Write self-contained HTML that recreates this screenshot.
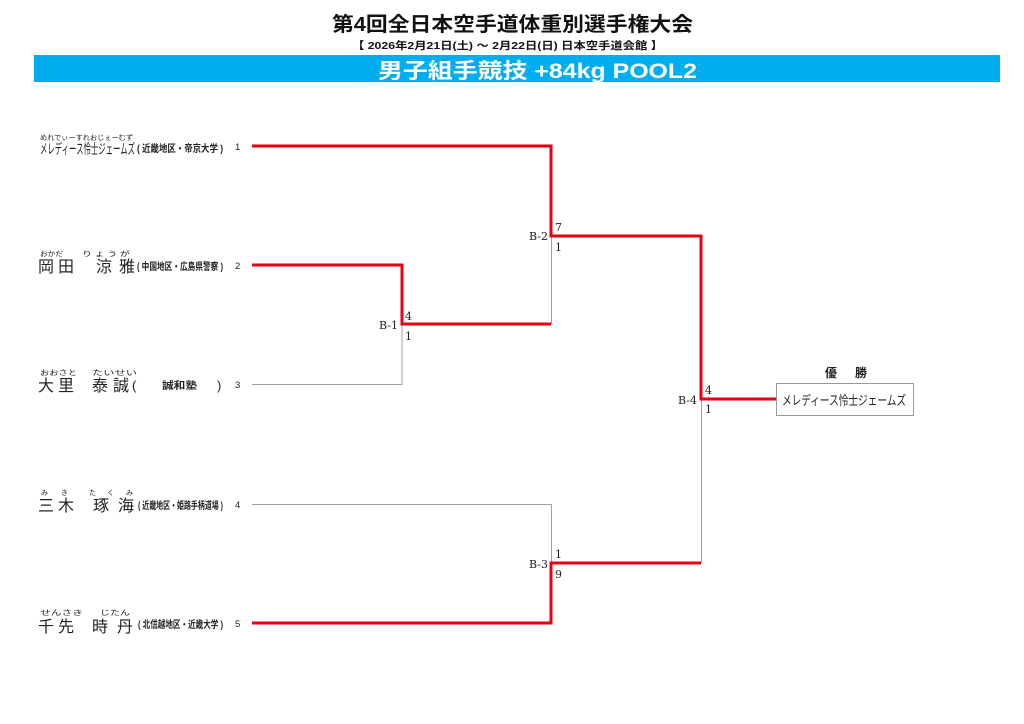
<!DOCTYPE html>
<html><head><meta charset="utf-8"><style>
html,body{margin:0;padding:0;background:#fff;width:1024px;height:724px;overflow:hidden}
svg{display:block}
.j{font-family:"Liberation Sans","Noto Sans CJK JP",sans-serif}
.s{font-family:"DejaVu Serif","Liberation Serif",serif;font-size:11px;fill:#222}
</style></head><body>
<svg width="1024" height="724" viewBox="0 0 1024 724" xmlns="http://www.w3.org/2000/svg">
<rect width="1024" height="724" fill="#fff"/>
<text class="j" x="332" y="31" font-size="20" font-weight="bold" textLength="361" lengthAdjust="spacingAndGlyphs" fill="#111">第4回全日本空手道体重別選手権大会</text>
<text class="j" x="352" y="49" font-size="10.5" font-weight="bold" textLength="311" lengthAdjust="spacingAndGlyphs" fill="#111">【 2026年2月21日(土) ～ 2月22日(日)  日本空手道会館 】</text>
<rect x="34" y="55" width="966" height="27" fill="#00aeef"/>
<text class="j" x="378" y="78" font-size="21" font-weight="bold" textLength="319" lengthAdjust="spacingAndGlyphs" fill="#fff">男子組手競技 +84kg POOL2</text>

<!-- gray lines -->
<g stroke="#a0a0a0" stroke-width="1" fill="none">
<polyline points="252,384.5 402,384.5 402,324"/>
<polyline points="551.5,236 551.5,324"/>
<polyline points="252,504.5 551.5,504.5 551.5,563"/>
<polyline points="701.5,399 701.5,563"/>
</g>
<!-- red lines -->
<g stroke="#e60012" stroke-width="3" fill="none" stroke-linejoin="miter">
<polyline points="252,146 551,146 551,236 701,236 701,399 776,399"/>
<polyline points="252,265 402,265 402,324 551,324"/>
<polyline points="252,623 551,623 551,563 701,563"/>
</g>

<!-- player 1 -->
<text class="j" x="40" y="140" font-size="7" textLength="93" lengthAdjust="spacingAndGlyphs" fill="#222">めれでぃーすれおじぇーむず</text>
<text class="j" x="40" y="154" font-size="14" textLength="95" lengthAdjust="spacingAndGlyphs" fill="#222">メレディース怜士ジェームズ</text>
<text class="j" x="137" y="152" font-size="10" font-weight="bold" textLength="86" lengthAdjust="spacingAndGlyphs" fill="#222">( 近畿地区・帝京大学 )</text>
<text class="j" x="235" y="150" font-size="9.5" fill="#222">1</text>

<!-- player 2 -->
<text class="j" x="40" y="256" font-size="7" textLength="23" lengthAdjust="spacingAndGlyphs" fill="#222">おかだ</text>
<text class="j" x="82" y="256" font-size="7" textLength="48" lengthAdjust="spacingAndGlyphs" fill="#222">り ょ う が</text>
<g class="j" font-size="16" fill="#222">
<text x="38" y="272">岡</text><text x="58" y="272">田</text><text x="96" y="272">涼</text><text x="119" y="272">雅</text>
</g>
<text class="j" x="137" y="270" font-size="10" font-weight="bold" textLength="86" lengthAdjust="spacingAndGlyphs" fill="#222">( 中国地区・広島県警察 )</text>
<text class="j" x="235" y="269" font-size="9.5" fill="#222">2</text>

<!-- player 3 -->
<text class="j" x="40" y="375" font-size="7" textLength="37" lengthAdjust="spacingAndGlyphs" fill="#222">おおさと</text>
<text class="j" x="92" y="375" font-size="7" textLength="45" lengthAdjust="spacingAndGlyphs" fill="#222">たいせい</text>
<g class="j" font-size="16" fill="#222">
<text x="38" y="391">大</text><text x="58" y="391">里</text><text x="92" y="391">泰</text><text x="113" y="391">誠</text>
</g>
<text class="j" x="132" y="390" font-size="13" fill="#222">(</text>
<text class="j" x="162" y="389" font-size="10" font-weight="bold" textLength="35" lengthAdjust="spacingAndGlyphs" fill="#222">誠和塾</text>
<text class="j" x="217" y="390" font-size="13" fill="#222">)</text>
<text class="j" x="235" y="388" font-size="9.5" fill="#222">3</text>

<!-- player 4 -->
<text class="j" x="41" y="495" font-size="7" fill="#222">み</text>
<text class="j" x="61" y="495" font-size="7" fill="#222">き</text>
<text class="j" x="89" y="495" font-size="7" fill="#222">た</text>
<text class="j" x="107" y="495" font-size="7" fill="#222">く</text>
<text class="j" x="126" y="495" font-size="7" fill="#222">み</text>
<g class="j" font-size="16" fill="#222">
<text x="38" y="511">三</text><text x="58" y="511">木</text><text x="93" y="511">琢</text><text x="118" y="511">海</text>
</g>
<text class="j" x="138" y="509" font-size="10" font-weight="bold" textLength="85" lengthAdjust="spacingAndGlyphs" fill="#222">( 近畿地区・姫路手柄道場 )</text>
<text class="j" x="235" y="508" font-size="9.5" fill="#222">4</text>

<!-- player 5 -->
<text class="j" x="40" y="615" font-size="7" textLength="43" lengthAdjust="spacingAndGlyphs" fill="#222">せんさき</text>
<text class="j" x="100" y="615" font-size="7" textLength="30" lengthAdjust="spacingAndGlyphs" fill="#222">じたん</text>
<g class="j" font-size="16" fill="#222">
<text x="38" y="632">千</text><text x="58" y="632">先</text><text x="92" y="632">時</text><text x="117" y="632">丹</text>
</g>
<text class="j" x="138" y="628" font-size="10" font-weight="bold" textLength="85" lengthAdjust="spacingAndGlyphs" fill="#222">( 北信越地区・近畿大学 )</text>
<text class="j" x="235" y="627" font-size="9.5" fill="#222">5</text>

<!-- bracket labels -->
<text class="s" x="379" y="329">B-1</text>
<text class="s" x="405" y="320">4</text>
<text class="s" x="405" y="340">1</text>

<text class="s" x="529" y="240">B-2</text>
<text class="s" x="555" y="231">7</text>
<text class="s" x="555" y="251">1</text>

<text class="s" x="529" y="568">B-3</text>
<text class="s" x="555" y="558">1</text>
<text class="s" x="555" y="578">9</text>

<text class="s" x="678" y="404">B-4</text>
<text class="s" x="705" y="394">4</text>
<text class="s" x="705" y="413">1</text>

<!-- champion -->
<text class="j" x="825" y="377" font-size="12" font-weight="bold" fill="#222">優</text>
<text class="j" x="855" y="377" font-size="12" font-weight="bold" fill="#222">勝</text>
<rect x="776.5" y="383.5" width="137" height="32" fill="#fff" stroke="#999" stroke-width="1"/>
<text class="j" x="782" y="405" font-size="13" textLength="124" lengthAdjust="spacingAndGlyphs" fill="#222">メレディース怜士ジェームズ</text>
</svg>
</body></html>
